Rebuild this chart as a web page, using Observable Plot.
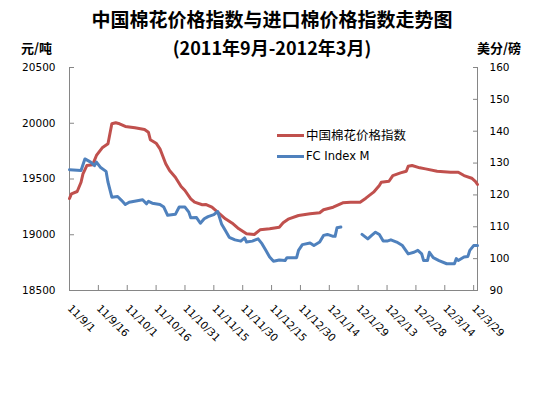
<!DOCTYPE html>
<html><head><meta charset="utf-8">
<script src="https://cdn.jsdelivr.net/npm/d3@7"></script>
<script src="https://cdn.jsdelivr.net/npm/@observablehq/plot@0.6"></script>
<style>
body{margin:0;background:#fff;}
#wrap{position:relative;width:544px;height:394px;overflow:hidden;font-family:"Noto Sans CJK SC",sans-serif;}
.t{position:absolute;white-space:nowrap;color:#000;font-weight:bold;}
.lg{position:absolute;white-space:nowrap;color:#000;font-size:12.5px;line-height:14px;}
.sw{position:absolute;height:3px;width:27px;}
</style></head>
<body><div id="wrap">
<div class="t" style="left:0;width:544px;text-align:center;top:7px;font-size:19px;line-height:24px;">中国棉花价格指数与进口棉价格指数走势图</div>
<div class="t" style="left:0;width:544px;text-align:center;top:35px;font-size:18px;line-height:24px;">(2011年9月-2012年3月)</div>
<div class="t" style="left:21px;top:39px;font-size:13px;line-height:18px;">元/吨</div>
<div class="t" style="left:477px;top:39px;font-size:13px;line-height:18px;">美分/磅</div>
<div class="sw" style="left:277px;top:134px;background:#C0504D"></div>
<div class="lg" style="left:306px;top:128px;">中国棉花价格指数</div>
<div class="sw" style="left:277px;top:155px;background:#4F81BD"></div>
<div class="lg" style="left:306px;top:149px;font-family:'DejaVu Sans',sans-serif;font-size:11.5px;">FC Index M</div>
</div>
<script>
const seriesNames = ["中国棉花价格指数", "FC Index M"];
const leftTicks = [18500, 19000, 19500, 20000, 20500];
const rightTicks = [90, 100, 110, 120, 130, 140, 150, 160];
const xTickLabels = ["11/9/1","11/9/16","11/10/1","11/10/16","11/10/31","11/11/15","11/11/30","11/12/15","11/12/30","12/1/14","12/1/29","12/2/13","12/2/28","12/3/14","12/3/29"];

const chinaDates = ["2011-09-01","2011-09-02","2011-09-05","2011-09-07","2011-09-08","2011-09-10","2011-09-13","2011-09-15","2011-09-18","2011-09-21","2011-09-23","2011-09-25","2011-09-27","2011-09-30","2011-10-05","2011-10-10","2011-10-12","2011-10-13","2011-10-16","2011-10-18","2011-10-21","2011-10-23","2011-10-26","2011-10-29","2011-10-31","2011-11-03","2011-11-05","2011-11-09","2011-11-11","2011-11-14","2011-11-17","2011-11-21","2011-11-25","2011-11-28","2011-12-02","2011-12-06","2011-12-09","2011-12-14","2011-12-19","2011-12-21","2011-12-24","2011-12-29","2012-01-04","2012-01-09","2012-01-11","2012-01-16","2012-01-21","2012-01-25","2012-01-30","2012-02-02","2012-02-06","2012-02-09","2012-02-10","2012-02-14","2012-02-16","2012-02-20","2012-02-23","2012-02-24","2012-02-26","2012-03-01","2012-03-04","2012-03-10","2012-03-17","2012-03-21","2012-03-24","2012-03-28","2012-03-30","2012-03-31"];
const chinaValues = [19325,19367,19388,19471,19546,19621,19627,19711,19780,19816,19995,20004,19995,19971,19959,19944,19920,19852,19821,19771,19636,19576,19516,19433,19397,19322,19292,19269,19271,19247,19202,19143,19098,19053,19008,19002,19044,19053,19068,19107,19143,19173,19188,19197,19224,19247,19286,19292,19292,19328,19382,19442,19471,19480,19531,19555,19570,19615,19621,19600,19591,19570,19561,19561,19531,19507,19477,19451];

const fcDates = ["2011-09-01","2011-09-07","2011-09-09","2011-09-12","2011-09-14","2011-09-15","2011-09-17","2011-09-20","2011-09-21","2011-09-23","2011-09-26","2011-09-28","2011-09-30","2011-10-02","2011-10-09","2011-10-11","2011-10-12","2011-10-14","2011-10-18","2011-10-20","2011-10-22","2011-10-26","2011-10-28","2011-10-31","2011-11-02","2011-11-03","2011-11-06","2011-11-08","2011-11-10","2011-11-12","2011-11-15","2011-11-17","2011-11-19","2011-11-21","2011-11-23","2011-11-26","2011-11-29","2011-12-01","2011-12-02","2011-12-05","2011-12-08","2011-12-10","2011-12-12","2011-12-14","2011-12-16","2011-12-19","2011-12-22","2011-12-23","2011-12-28","2011-12-29","2011-12-31","2012-01-04","2012-01-06","2012-01-09","2012-01-11","2012-01-13","2012-01-16","2012-01-17","2012-01-18","2012-01-20","2012-01-25","2012-01-31","2012-02-03","2012-02-05","2012-02-07","2012-02-09","2012-02-11","2012-02-13","2012-02-15","2012-02-18","2012-02-21","2012-02-24","2012-02-27","2012-02-29","2012-03-02","2012-03-03","2012-03-05","2012-03-06","2012-03-08","2012-03-11","2012-03-15","2012-03-19","2012-03-20","2012-03-21","2012-03-24","2012-03-26","2012-03-27","2012-03-29","2012-03-31"];
const fcValues = [127.9,127.7,131.3,130.3,129.2,130.3,128.7,127.4,124.0,119.3,119.5,118.3,117.0,117.7,118.5,117.2,118.0,117.4,117.0,116.2,113.6,113.9,116.2,116.2,114.6,112.8,112.9,111.1,112.5,113.2,113.8,114.8,110.9,108.8,106.7,105.9,105.5,106.5,105.2,105.5,106.2,104.7,102.6,100.5,99.2,99.6,99.4,100.3,100.3,102.6,104.4,104.9,104.1,105.2,107.3,107.6,107.0,107.0,109.7,109.9,null,107.6,106.2,107.3,108.3,107.6,105.5,105.5,105.9,105.2,104.1,101.5,102.0,102.6,101.5,99.4,99.4,102.0,100.3,99.4,98.4,98.4,100.0,99.4,100.5,100.7,102.6,104.1,104.1];

const parse = d3.utcParse("%Y-%m-%d");
const L0 = leftTicks[0], L1 = leftTicks[leftTicks.length-1];
const R0 = rightTicks[0], R1 = rightTicks[rightTicks.length-1];
const toLeft = v => v == null ? null : L0 + (v - R0) * (L1 - L0) / (R1 - R0);
const fromLeft = v => R0 + (v - L0) * (R1 - R0) / (L1 - L0);

const china = chinaDates.map((d, i) => ({date: parse(d), value: chinaValues[i]}));
const fc = fcDates.map((d, i) => ({date: parse(d), value: toLeft(fcValues[i])}));

const tickDates = xTickLabels.map(s => { const [y, m, d] = s.split("/").map(Number); return new Date(Date.UTC(2000 + y, m - 1, d)); });
const labelOf = new Map(tickDates.map((d, i) => [+d, xTickLabels[i]]));
const xDomain = [parse(chinaDates[0]), parse(chinaDates[chinaDates.length-1])];
const axisColor = "#868686";

const chart = Plot.plot({
  width: 544, height: 394,
  marginTop: 67, marginBottom: 104, marginLeft: 69, marginRight: 67,
  style: {fontFamily: "'DejaVu Sans', sans-serif", fontSize: "10.5px", color: "#000", background: "transparent", overflow: "visible"},
  x: {type: "utc", domain: xDomain},
  y: {domain: [L0, L1]},
  marks: [
    Plot.axisY({anchor: "left", ticks: leftTicks, tickSize: -5, tickPadding: 19, stroke: axisColor, fill: "#000", label: null, tickFormat: d => String(d)}),
    Plot.axisY({anchor: "right", ticks: rightTicks.map(toLeft), tickSize: -5, tickPadding: 17, stroke: axisColor, fill: "#000", label: null, tickFormat: v => String(Math.round(fromLeft(v)))}),
    Plot.axisX({ticks: tickDates, tickSize: -5, tickPadding: 21, tickRotate: 45, stroke: axisColor, fill: "#000", label: null, tickFormat: d => labelOf.get(+d)}),
    Plot.ruleX([xDomain[0]], {stroke: axisColor}),
    Plot.ruleX([xDomain[1]], {stroke: axisColor}),
    Plot.ruleY([L0], {stroke: axisColor}),
    Plot.lineY(china, {x: "date", y: "value", stroke: "#C0504D", strokeWidth: 3, strokeLinejoin: "round"}),
    Plot.lineY(fc, {x: "date", y: "value", stroke: "#4F81BD", strokeWidth: 3, strokeLinejoin: "round"})
  ]
});
chart.style.position = "absolute";
chart.style.left = "0px";
chart.style.top = "0px";
document.getElementById("wrap").prepend(chart);
</script>
</body></html>
